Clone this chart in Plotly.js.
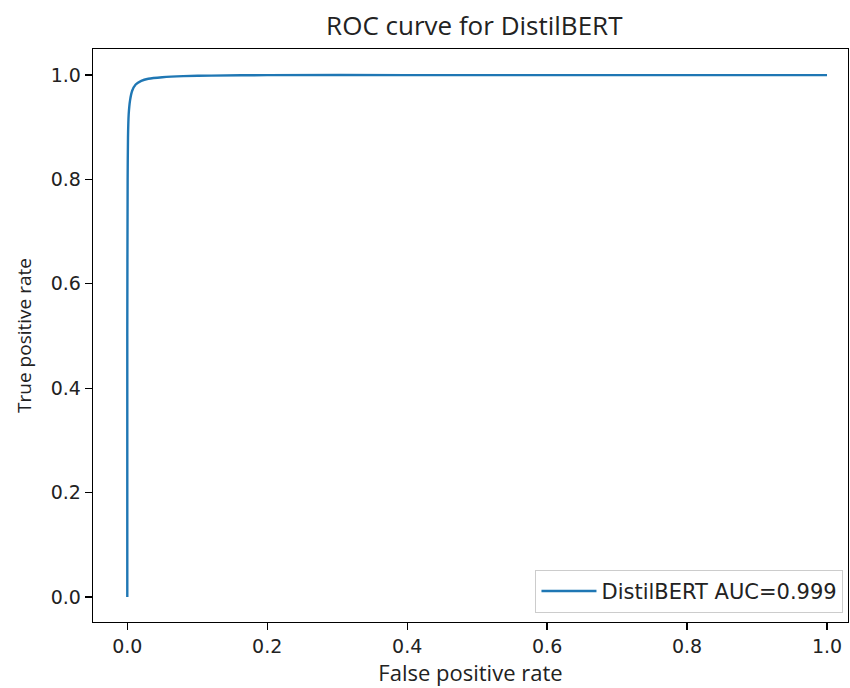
<!DOCTYPE html>
<html>
<head>
<meta charset="utf-8">
<script src="https://cdn.plot.ly/plotly-3.0.1.min.js"></script>
<style>html,body{margin:0;padding:0;background:#fff;}#chart{width:850px;height:688px;}</style>
</head>
<body>
<div id="chart"></div>
<script>
const fpr = [0, 0, 0.0005, 0.001, 0.002, 0.004, 0.007, 0.012, 0.02, 0.03, 0.05, 0.08, 0.12, 0.2, 0.4, 0.7, 1.0];
const tpr = [0, 0.5, 0.80, 0.88, 0.925, 0.952, 0.970, 0.982, 0.989, 0.993, 0.996, 0.998, 0.999, 1.0, 1.0, 1.0, 1.0];
const seriesName = 'DistilBERT AUC=0.999';
const xTicks = [0, 0.2, 0.4, 0.6, 0.8, 1.0];
const yTicks = [0, 0.2, 0.4, 0.6, 0.8, 1.0];

const font = 'DejaVu Sans, sans-serif';
const tfont = 'Open Sans, Noto Sans, sans-serif';
const trace = {
  x: fpr, y: tpr, type: 'scatter', mode: 'lines', name: seriesName,
  line: {color: '#1f77b4', width: 2.4, shape: 'spline', smoothing: 0.6}
};
const axisCommon = {
  showgrid: false, zeroline: false, showline: true, mirror: true,
  linecolor: '#000', linewidth: 1.3, ticks: 'outside', ticklen: 7, tickwidth: 1.3,
  tickcolor: '#000', tickfont: {family: font, size: 19, color: '#222'}
};
const layout = {
  width: 850, height: 688,
  margin: {l: 93, r: 2, t: 49, b: 66},
  paper_bgcolor: '#fff', plot_bgcolor: '#fff',
  title: {text: 'ROC curve for DistilBERT', x: 0.558, xanchor: 'center', y: 0.962, yanchor: 'middle', font: {family: tfont, size: 26, color: '#222'}},
  xaxis: Object.assign({}, axisCommon, {
    range: [-0.049, 1.03], tickvals: xTicks, ticktext: xTicks.map(v => v.toFixed(1)),
    title: {text: 'False positive rate', font: {family: tfont, size: 22, color: '#222'}, standoff: 2}
  }),
  yaxis: Object.assign({}, axisCommon, {
    range: [-0.048, 1.05], tickvals: yTicks, ticktext: yTicks.map(v => v.toFixed(1)),
    title: {text: 'True positive rate', font: {family: tfont, size: 19, color: '#222'}, standoff: 14}
  }),
  showlegend: true,
  legend: {
    x: 0.994, y: 0.016, xanchor: 'right', yanchor: 'bottom',
    bgcolor: 'rgba(255,255,255,0.8)', bordercolor: '#ccc', borderwidth: 1,
    itemwidth: 55,
    font: {family: font, size: 21, color: '#222'}
  }
};
Plotly.newPlot('chart', [trace], layout, {displayModeBar: false, staticPlot: true});
</script>
</body>
</html>
